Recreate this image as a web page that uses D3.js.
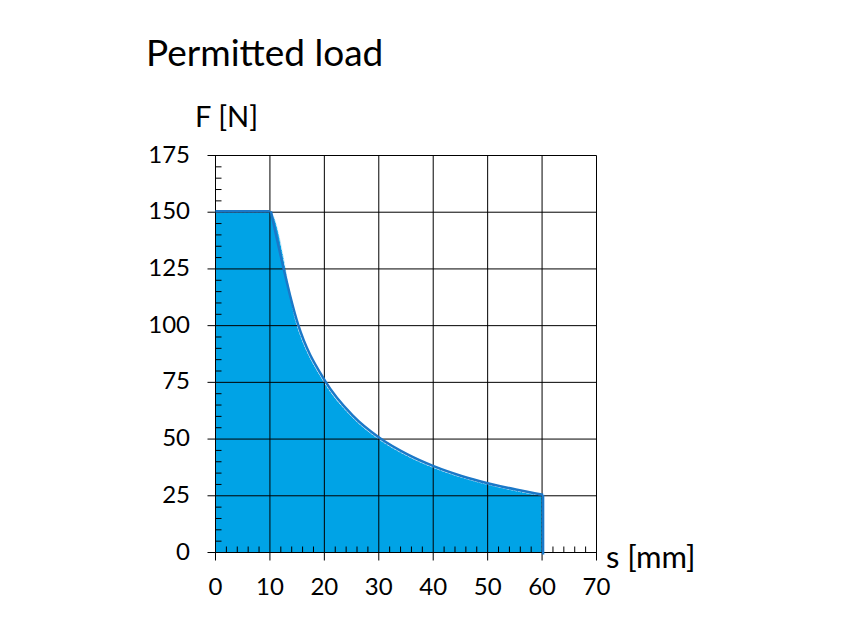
<!DOCTYPE html>
<html><head><meta charset="utf-8">
<script src="https://cdn.jsdelivr.net/npm/d3@7"></script>
<style>body{margin:0;background:#fff}</style>
</head><body>
<svg id="c" width="852" height="640"></svg>
<script>
const title = "Permitted load";
const xLabel = "s [mm]";
const yLabel = "F [N]";
const xTicks = [0, 10, 20, 30, 40, 50, 60, 70];
const yTicks = [0, 25, 50, 75, 100, 125, 150, 175];
// curve points (s in mm, F in N)
const sVals = [0, 10, 15, 20, 25, 30, 35, 40, 45, 50, 55, 60];
const fVals = [150, 150, 100, 75, 60, 50, 42.9, 37.5, 33.3, 30, 27.3, 25];

const svg = d3.select("#c");
const font = "Lato, 'Open Sans', sans-serif";
const x = d3.scaleLinear().domain([0, 70]).range([215.5, 596.5]);
const y = d3.scaleLinear().domain([0, 175]).range([552.5, 155.5]);
const data = sVals.map((s, i) => ({s, f: fVals[i]}));

// fill (straight segments between points)
const area = d3.area().x(d => x(d.s)).y0(y(0)).y1(d => y(d.f)).curve(d3.curveMonotoneX);
svg.append("path").datum(data).attr("d", area).attr("fill", "#00A3E6")
  .attr("stroke", "#cfeaf8").attr("stroke-width", 1).attr("stroke-dasharray", "3,1");

// grid
const g = svg.append("g");
g.selectAll(".vx").data(xTicks).join("line")
  .attr("x1", d => x(d)).attr("x2", d => x(d))
  .attr("y1", y(175)).attr("y2", y(0) + 8).attr("stroke", "#000").attr("stroke-width", 1);
g.selectAll(".hy").data(yTicks).join("line")
  .attr("y1", d => y(d)).attr("y2", d => y(d))
  .attr("x1", x(0) - 8).attr("x2", x(70)).attr("stroke", "#000").attr("stroke-width", 1);

// minor ticks
const xMinor = d3.range(0, 70.1, 2).filter(v => v % 10 !== 0);
g.selectAll(".mx").data(xMinor).join("line")
  .attr("x1", d => x(d)).attr("x2", d => x(d))
  .attr("y1", y(0)).attr("y2", y(0) - 6).attr("stroke", "#000").attr("stroke-width", 1);
const yMinor = d3.range(0, 175.1, 5).filter(v => v % 25 !== 0);
g.selectAll(".my").data(yMinor).join("line")
  .attr("y1", d => y(d)).attr("y2", d => y(d))
  .attr("x1", x(0)).attr("x2", x(0) + 6).attr("stroke", "#000").attr("stroke-width", 1);

// curve line
const flat = data.filter(d => d.s <= 10);
const drop = data.filter(d => d.s >= 10);
const lineL = d3.line().x(d => x(d.s)).y(d => y(d.f) - 1);
const lineC = d3.line().x(d => x(d.s) + 1).y(d => y(d.f) - 1).curve(d3.curveMonotoneX);
svg.append("path").datum(flat).attr("d", lineL).attr("fill", "none")
  .attr("stroke", "#1B78C8").attr("stroke-width", 2.5);
svg.append("path").datum(drop).attr("d", lineC).attr("fill", "none")
  .attr("stroke", "#1B78C8").attr("stroke-width", 2.5).attr("stroke-linejoin", "round");
svg.append("line").attr("x1", x(60) + 1).attr("x2", x(60) + 1).attr("y1", y(25) - 1).attr("y2", y(0) + 2)
  .attr("stroke", "#1B78C8").attr("stroke-width", 2.5);

// tick labels
svg.selectAll(".xl").data(xTicks).join("text")
  .attr("x", d => x(d)).attr("y", 595).attr("text-anchor", "middle")
  .attr("font-family", font).attr("font-size", 24).attr("fill", "#000").text(d => d);
svg.selectAll(".yl").data(yTicks).join("text")
  .attr("x", 190).attr("y", d => y(d) + 7).attr("text-anchor", "end")
  .attr("font-family", font).attr("font-size", 24).attr("fill", "#000").text(d => d);

// axis labels
svg.append("text").attr("x", 195).attr("y", 127).attr("font-family", font)
  .attr("font-size", 29).attr("fill", "#000").text(yLabel);
svg.append("text").attr("x", 606).attr("y", 568).attr("font-family", font)
  .attr("font-size", 31).attr("fill", "#000").text(xLabel);

// title
svg.append("text").attr("x", 146).attr("y", 66).attr("font-family", font)
  .attr("font-size", 37).attr("fill", "#000").text(title);
</script>
</body></html>
